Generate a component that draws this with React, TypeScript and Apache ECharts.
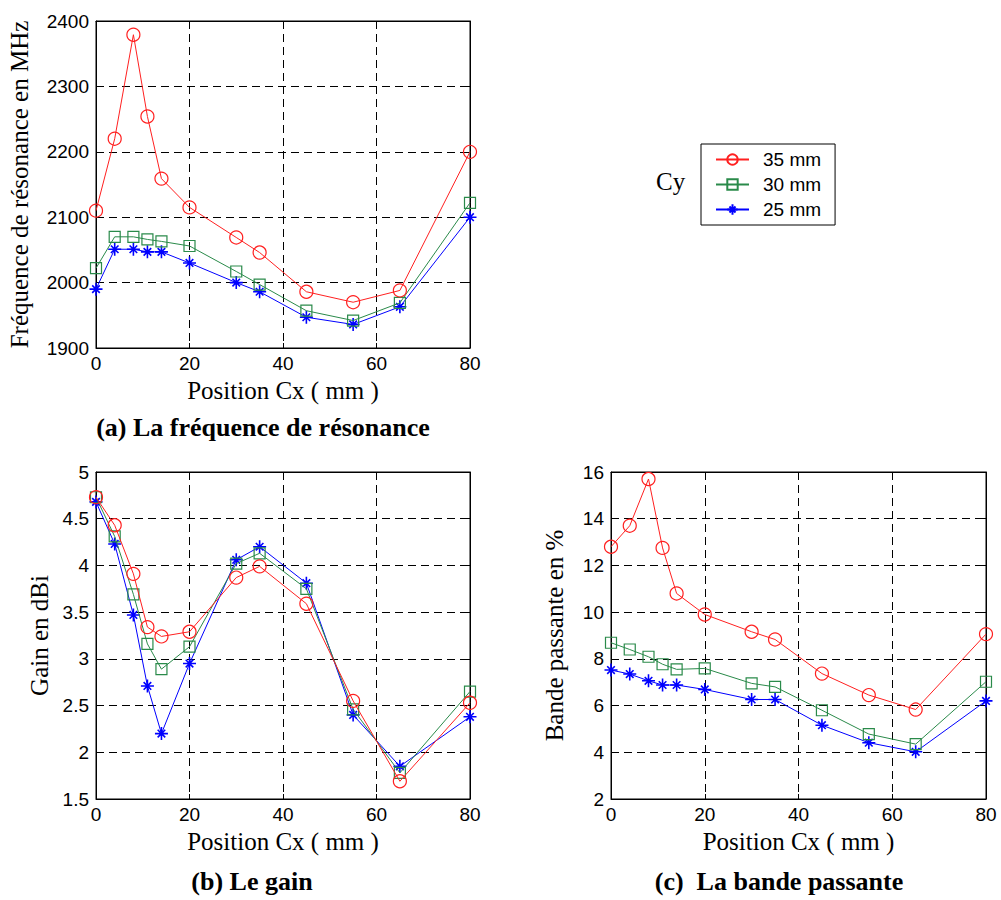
import React, { useEffect, useRef } from "react";
import * as echarts from "echarts";

const cx = [0, 4, 8, 11, 14, 20, 30, 35, 45, 55, 65, 80];
const seriesNames = ["35 mm", "30 mm", "25 mm"];

const freq35 = [2110, 2220, 2379, 2254, 2159, 2115, 2069, 2046, 1986, 1970, 1988, 2200];
const freq30 = [2022, 2070, 2070, 2066, 2063, 2056, 2017, 1997, 1957, 1942, 1969, 2122];
const freq25 = [1990, 2051, 2051, 2047, 2047, 2030, 2000, 1986, 1947, 1936, 1963, 2100];

const gain35 = [4.73, 4.43, 3.91, 3.34, 3.24, 3.29, 3.87, 3.99, 3.59, 2.55, 1.69, 2.53];
const gain30 = [4.73, 4.31, 3.69, 3.16, 2.89, 3.13, 4.02, 4.13, 3.75, 2.46, 1.78, 2.65];
const gain25 = [4.68, 4.23, 3.47, 2.71, 2.2, 2.95, 4.06, 4.2, 3.81, 2.4, 1.85, 2.38];

const bw35 = [12.8, 13.7, 15.7, 12.75, 10.8, 9.9, 9.16, 8.83, 7.37, 6.45, 5.83, 9.06];
const bw30 = [8.69, 8.4, 8.09, 7.77, 7.55, 7.59, 6.95, 6.8, 5.8, 4.78, 4.35, 7.02];
const bw25 = [7.52, 7.35, 7.06, 6.88, 6.88, 6.69, 6.26, 6.26, 5.16, 4.41, 4.02, 6.2];

const xTitle = "Position Cx ( mm )";
const yTitles = ["Fréquence de résonance en MHz", "Gain en dBi", "Bande passante en %"];
const captions = ["(a) La fréquence de résonance", "(b) Le gain", "(c)  La bande passante"];
const yRanges = [
  [1900, 2400, 100],
  [1.5, 5, 0.5],
  [2, 16, 2],
];

const colors = ["#ff2020", "#2a8a4a", "#0000ff"];
const asterisk = "path://M6,0 L6,12 M0,6 L12,6 M2.5,2.5 L9.5,9.5 M2.5,9.5 L9.5,2.5";
const symbols = ["circle", "rect", asterisk];
const symbolSizes = [13, 11, 13];

const SERIF = "'Liberation Serif', 'Times New Roman', serif";
const SANS = "'Liberation Sans', Arial, sans-serif";

export default function App() {
  const ref = useRef<HTMLDivElement>(null);
  useEffect(() => {
    if (!ref.current) return;
    const chart = echarts.init(ref.current, undefined, { renderer: "svg" });

    const grids = [
      { left: 96, top: 21, width: 374, height: 327 },
      { left: 96, top: 472, width: 374, height: 327 },
      { left: 611, top: 472, width: 375, height: 327 },
    ];
    const yNameGaps = [64, 44, 44];
    const plain = (v: number) => String(v);

    const xAxes: any[] = [];
    const yAxes: any[] = [];
    grids.forEach((g, i) => {
      xAxes.push({
        type: "value",
        gridIndex: i,
        min: 0,
        max: 80,
        interval: 20,
        name: xTitle,
        nameLocation: "middle",
        nameGap: 30,
        nameTextStyle: { fontFamily: SERIF, fontSize: 25, color: "#000" },
        axisLine: { show: true, onZero: false, lineStyle: { color: "#000", width: 1 } },
        axisTick: { show: true, inside: true, length: 5, lineStyle: { color: "#000" } },
        axisLabel: { fontFamily: SANS, fontSize: 19, color: "#000", margin: 6, formatter: plain },
        splitLine: { show: true, lineStyle: { color: "#000", type: [8, 5], width: 1 } },
      });
      yAxes.push({
        type: "value",
        gridIndex: i,
        min: yRanges[i][0],
        max: yRanges[i][1],
        interval: yRanges[i][2],
        name: yTitles[i],
        nameLocation: "middle",
        nameGap: yNameGaps[i],
        nameTextStyle: { fontFamily: SERIF, fontSize: 25, color: "#000" },
        axisLine: { show: true, onZero: false, lineStyle: { color: "#000", width: 1 } },
        axisTick: { show: true, inside: true, length: 5, lineStyle: { color: "#000" } },
        axisLabel: { fontFamily: SANS, fontSize: 19, color: "#000", margin: 7, formatter: plain },
        splitLine: { show: true, lineStyle: { color: "#000", type: [8, 5], width: 1 } },
      });
    });
    grids.forEach((g, i) => {
      xAxes.push({
        type: "value",
        gridIndex: i,
        position: "top",
        min: 0,
        max: 80,
        interval: 20,
        axisLine: { show: true, onZero: false, lineStyle: { color: "#000" } },
        axisTick: { show: true, inside: true, length: 5, lineStyle: { color: "#000" } },
        axisLabel: { show: false },
        splitLine: { show: false },
      });
      yAxes.push({
        type: "value",
        gridIndex: i,
        position: "right",
        min: yRanges[i][0],
        max: yRanges[i][1],
        interval: yRanges[i][2],
        axisLine: { show: true, onZero: false, lineStyle: { color: "#000" } },
        axisTick: { show: true, inside: true, length: 5, lineStyle: { color: "#000" } },
        axisLabel: { show: false },
        splitLine: { show: false },
      });
    });

    const datasets = [
      [freq35, freq30, freq25],
      [gain35, gain30, gain25],
      [bw35, bw30, bw25],
    ];
    const series: any[] = [];
    datasets.forEach((group, gi) => {
      group.forEach((vals, si) => {
        series.push({
          type: "line",
          name: seriesNames[si],
          xAxisIndex: gi,
          yAxisIndex: gi,
          data: cx.map((x, k) => [x, vals[k]]),
          symbol: symbols[si],
          symbolSize: symbolSizes[si],
          showAllSymbol: true,
          lineStyle: { color: colors[si], width: 1 },
          itemStyle: { color: "rgba(0,0,0,0)", borderColor: colors[si], borderWidth: si === 2 ? 1.6 : 1.2 },
          emphasis: { disabled: true },
          z: 3 - si,
        });
      });
    });

    chart.setOption({
      animation: false,
      backgroundColor: "#fff",
      grid: grids.map((g) => ({ ...g, show: true, borderColor: "#000", borderWidth: 1, backgroundColor: "transparent" })),
      xAxis: xAxes,
      yAxis: yAxes,
      legend: {
        show: true,
        orient: "vertical",
        left: 701,
        top: 144,
        data: seriesNames,
        itemWidth: 33,
        itemHeight: 13,
        itemGap: 6,
        padding: [6, 14, 6, 14],
        borderColor: "#000",
        borderWidth: 1,
        backgroundColor: "#fff",
        selectedMode: false,
        textStyle: { fontFamily: SANS, fontSize: 19, color: "#000", padding: [0, 0, 0, 9] },
      },
      graphic: [
        { type: "text", left: 656, top: 169, style: { text: "Cy", font: `25px ${SERIF}`, fill: "#000" } },
        {
          type: "text",
          x: 263,
          y: 427,
          style: { text: captions[0], font: `bold 26px ${SERIF}`, fill: "#000", align: "center", verticalAlign: "middle" },
        },
        {
          type: "text",
          x: 252,
          y: 881,
          style: { text: captions[1], font: `bold 26px ${SERIF}`, fill: "#000", align: "center", verticalAlign: "middle" },
        },
        {
          type: "text",
          x: 779,
          y: 881,
          style: { text: captions[2], font: `bold 26px ${SERIF}`, fill: "#000", align: "center", verticalAlign: "middle" },
        },
      ],
      series,
    });
    return () => chart.dispose();
  }, []);
  return <div ref={ref} style={{ position: "absolute", left: 0, top: 0, width: 1001, height: 900 }} />;
}
